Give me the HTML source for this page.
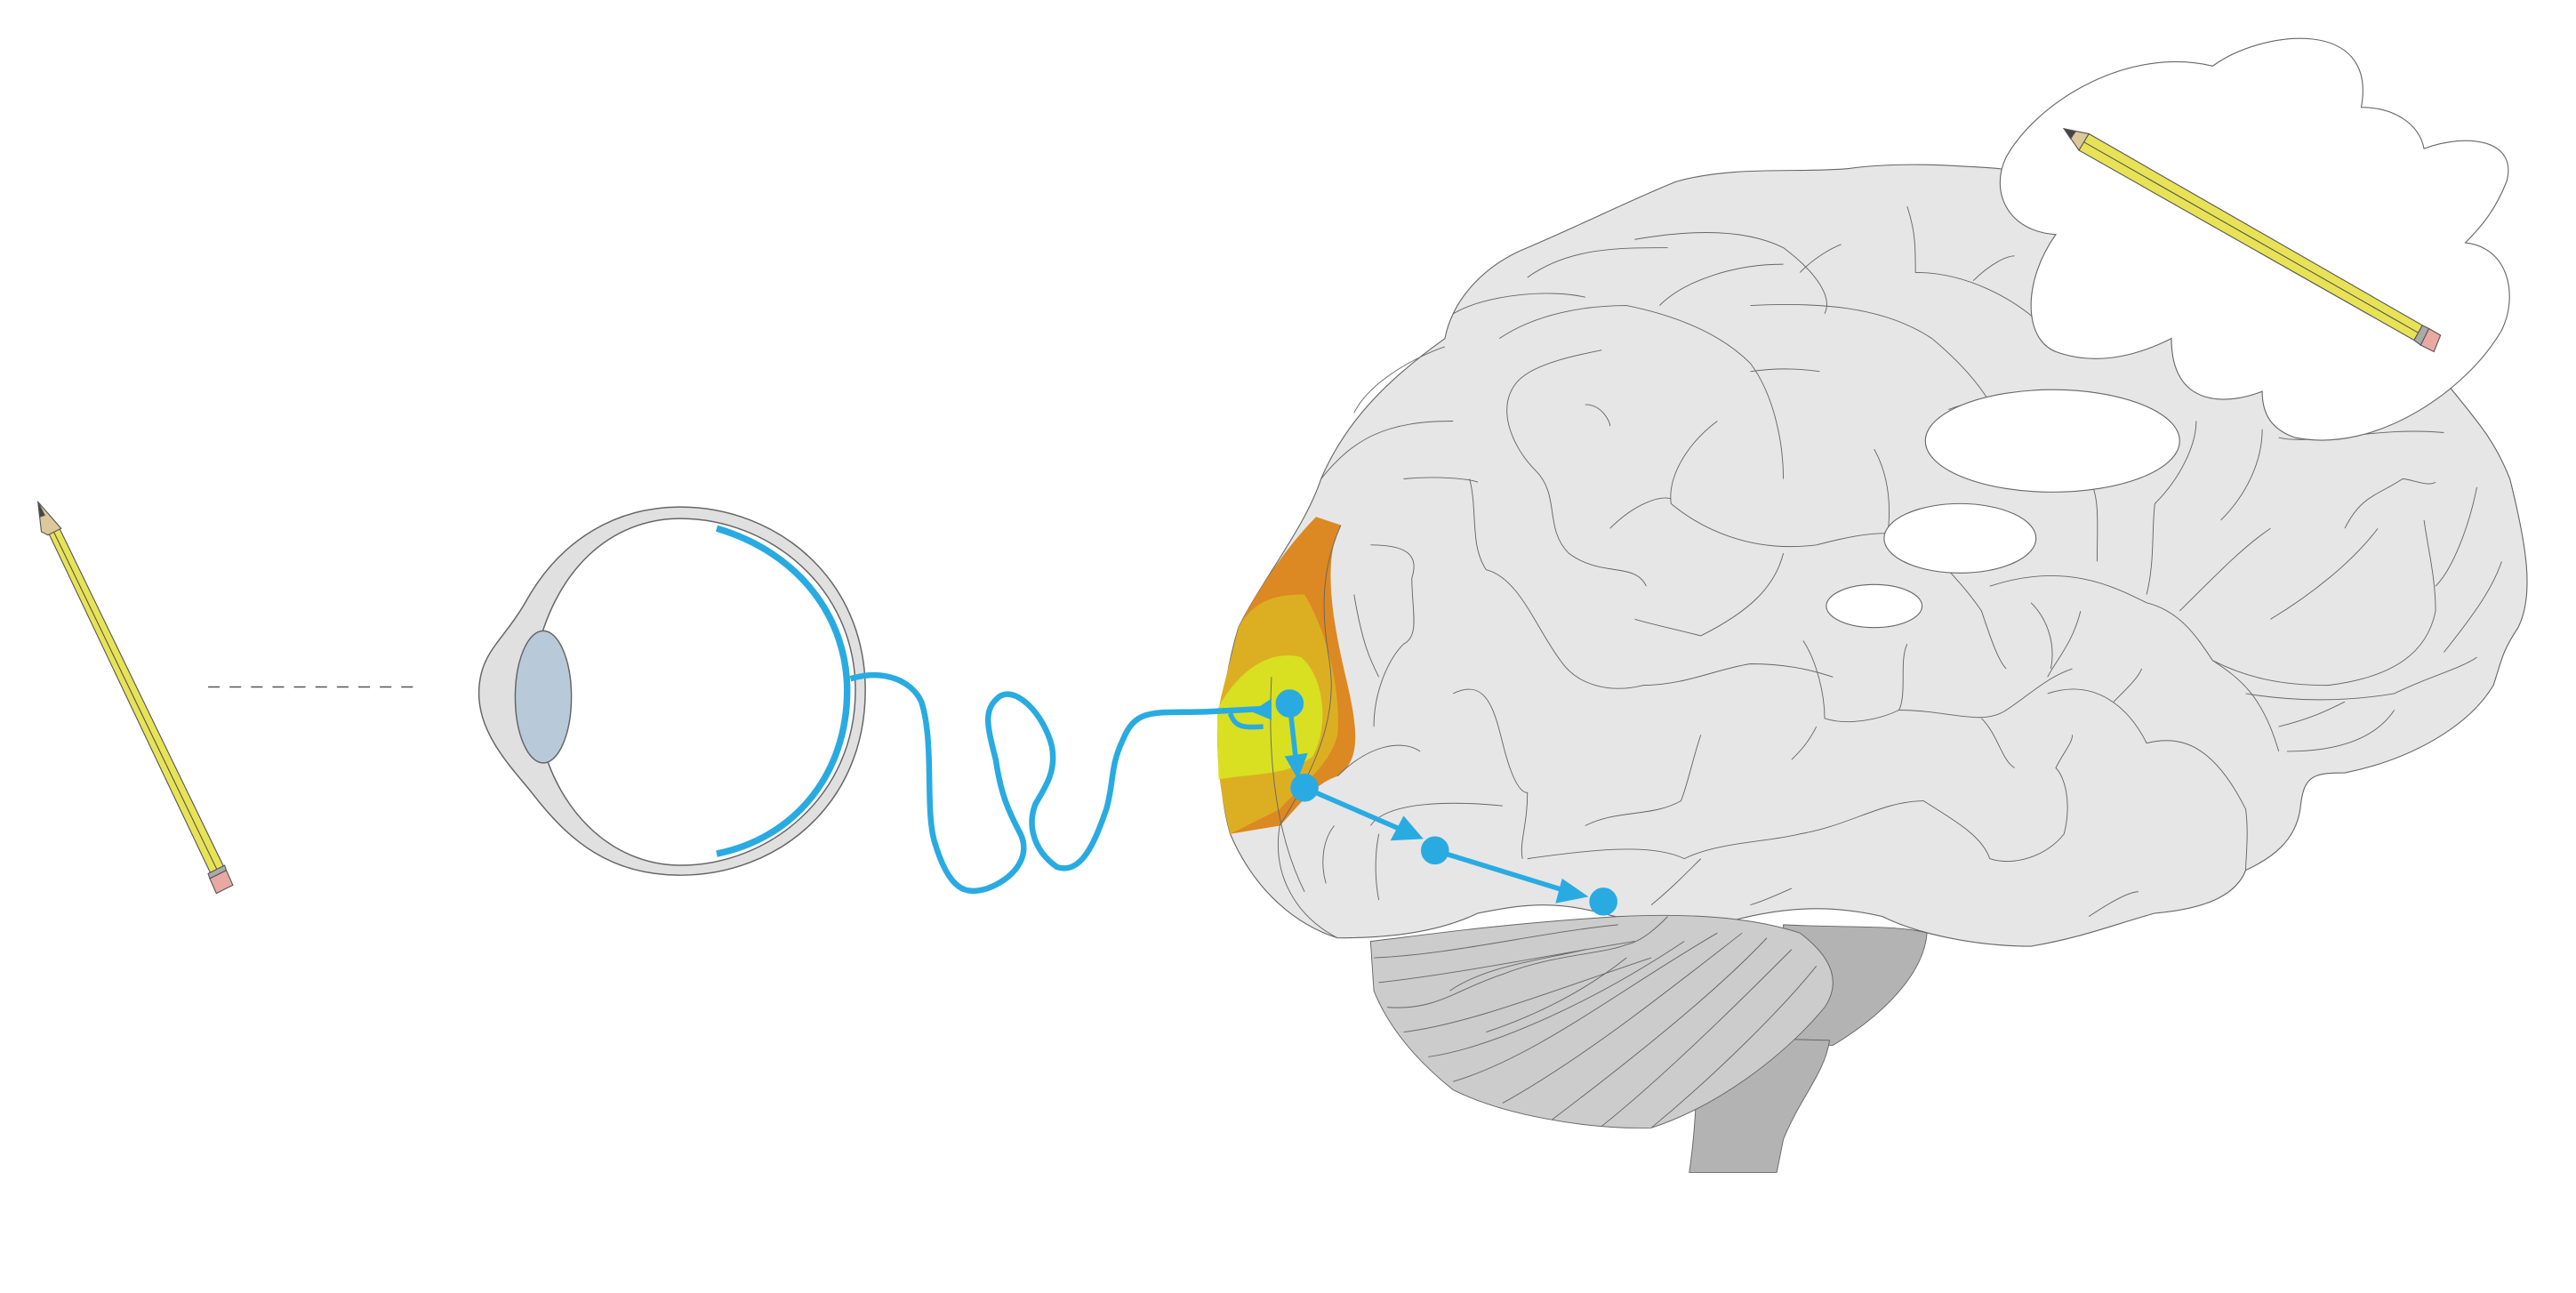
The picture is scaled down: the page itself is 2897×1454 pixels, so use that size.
<!DOCTYPE html>
<html><head><meta charset="utf-8"><style>html,body{margin:0;padding:0;background:#fff}svg{display:block}</style></head>
<body>
<svg width="2897" height="1454" viewBox="0 0 1560 783" xmlns="http://www.w3.org/2000/svg">
<rect width="1560" height="783" fill="#fff"/>
<!-- left pencil -->
<g stroke="#555" stroke-width="0.6">
<polygon points="29,322 36,320 137,528 129,532" fill="#e8e356"/>
<line x1="32" y1="321" x2="133" y2="530"/>
<polygon points="23,304 37,320 29,324 25,322" fill="#dcc89a"/>
<polygon points="23,304 27,312 24,313" fill="#444"/>
<polygon points="127,532 137,527 141,536 131,541" fill="#e8a9a3"/>
<polygon points="126,529 136,524 137,527 127,532" fill="#aaa"/>
</g>
<line x1="126" y1="416" x2="256" y2="416" stroke="#555" stroke-width="0.8" stroke-dasharray="7,6"/>
<!-- eye -->
<path d="M412,307 C470,307 524,350 524,418 C524,488 470,530 412,530 C370,530 345,510 322,480 C310,465 290,445 290,420 C290,395 305,388 318,365 C340,325 375,307 412,307 Z" fill="#e0e0e0" stroke="#666" stroke-width="0.8"/>
<path d="M412,314 C465,314 518,355 518,418 C518,483 465,524 412,524 C370,524 335,490 326,440 L324,400 C335,345 370,314 412,314 Z" fill="#fff" stroke="#666" stroke-width="0.8"/>
<ellipse cx="329" cy="422" rx="17" ry="40" fill="#b8cad9" stroke="#666" stroke-width="0.8"/>
<path d="M434,320 C485,335 513,375 513,418 C513,470 480,508 434,517" fill="none" stroke="#29abe2" stroke-width="4"/>
<!-- brain -->
<path d="M745,505 C735,470 738,420 750,380 C765,350 790,320 800,290 C815,255 840,230 875,205 C880,180 900,160 925,150 C960,135 990,120 1015,110 C1050,100 1090,105 1120,102 C1150,98 1180,100 1210,102 C1260,110 1300,130 1340,150 C1380,170 1420,195 1480,230 C1500,255 1510,265 1520,290 C1530,330 1535,360 1525,380 C1515,395 1515,400 1510,415 C1495,440 1460,460 1420,468 C1400,468 1395,470 1393,490 C1390,510 1375,520 1360,527 C1355,540 1340,550 1305,553 C1280,560 1260,568 1230,573 C1195,573 1160,565 1140,555 C1110,548 1080,548 1040,560 C1010,562 990,558 970,553 C940,545 920,548 895,553 C870,565 840,568 810,568 C785,560 760,540 745,505 Z" fill="#e6e6e6" stroke="#666" stroke-width="0.6"/>
<!-- cerebellum -->
<path d="M1080,560 C1120,562 1150,560 1167,565 C1165,590 1140,615 1110,633 L1080,633 Z" fill="#b3b3b3" stroke="#666" stroke-width="0.5"/>
<path d="M1028,628 L1108,630 C1105,650 1090,665 1080,690 L1076,710 L1023,710 C1026,690 1028,665 1028,628 Z" fill="#b3b3b3" stroke="#666" stroke-width="0.5"/>
<path d="M830,570 C850,568 900,560 980,555 C1020,553 1060,555 1090,565 C1110,580 1115,595 1105,610 C1080,640 1040,670 1000,683 C960,684 910,675 880,660 C855,640 840,620 832,600 Z" fill="#cccccc" stroke="#666" stroke-width="0.5"/>
<g fill="none" stroke="#666" stroke-width="0.5">
<path d="M832,580 C880,578 930,565 980,560"/><path d="M835,595 C880,590 930,580 990,570"/>
<path d="M840,610 C870,612 880,600 910,590 C940,578 970,578 985,572"/>
<path d="M850,625 C890,620 940,600 1000,580"/><path d="M865,640 C900,635 960,610 1020,570"/>
<path d="M880,655 C930,640 980,600 1040,565"/><path d="M910,668 C960,640 1010,600 1055,565"/>
<path d="M940,678 C990,640 1040,600 1070,568"/><path d="M970,682 C1010,650 1060,600 1085,575"/>
<path d="M1000,683 C1040,650 1080,610 1100,585"/><path d="M878,600 C900,585 930,582 960,575"/>
<path d="M900,625 C930,615 960,600 985,580"/><path d="M985,572 C995,570 1005,560 1010,555"/>
</g>
<!-- occipital colour -->
<path d="M750,380 C765,350 785,325 797,313 L812,318 C800,340 808,380 815,410 C822,440 825,460 810,470 C795,475 785,490 775,500 L745,505 C737,475 735,440 740,420 Z" fill="#dc8823"/>
<path d="M750,380 C760,362 775,360 790,360 C805,385 812,420 810,445 C805,465 785,478 775,490 L745,505 C737,475 735,440 740,420 Z" fill="#dcaf23"/>
<path d="M737,430 C750,405 770,393 788,398 C802,410 805,440 795,458 C780,470 760,468 738,472 Z" fill="#d8e021"/>
<!-- sulci -->
<g fill="none" stroke="#666" stroke-width="0.5">
<path d="M812,318 C800,345 800,370 805,400 C810,430 800,460 775,500 C770,530 785,555 810,568"/>
<path d="M770,410 C768,450 770,500 790,540"/>
<path d="M800,290 C820,265 840,255 880,255"/><path d="M820,250 C830,230 860,215 875,210"/>
<path d="M880,190 C900,178 940,175 960,180"/><path d="M925,168 C950,150 980,150 1010,150"/>
<path d="M1005,185 C1020,170 1050,160 1080,160"/><path d="M990,145 C1030,138 1060,140 1080,150 C1100,165 1110,180 1105,190"/>
<path d="M1060,185 C1100,183 1140,185 1170,205 C1200,230 1210,250 1215,265"/>
<path d="M1090,165 C1100,155 1110,150 1115,148"/><path d="M1155,125 C1160,140 1160,150 1160,165 C1190,165 1220,180 1240,200"/>
<path d="M1195,170 C1205,160 1215,155 1220,155"/>
<path d="M908,205 C930,190 960,185 985,185 C1010,190 1040,200 1060,220 C1075,240 1080,270 1080,290"/>
<path d="M970,212 C955,215 930,220 920,230 C905,245 915,270 930,285 C945,300 935,320 950,335 C970,350 990,340 997,355"/>
<path d="M960,245 C970,245 975,255 975,258"/>
<path d="M1060,225 C1080,222 1095,224 1102,225"/>
<path d="M1040,255 C1020,270 1010,290 1012,305 C1030,320 1060,335 1100,330 C1120,325 1140,320 1160,325"/>
<path d="M975,320 C990,305 1005,300 1012,302"/>
<path d="M1080,335 C1075,355 1060,370 1030,385 C1010,380 1000,378 990,375"/>
<path d="M1135,272 C1145,290 1145,310 1143,325"/>
<path d="M1180,248 C1200,240 1215,245 1210,250"/>
<path d="M890,290 C895,310 890,330 900,345 C920,350 930,380 945,400 C955,415 975,420 995,415 C1020,415 1040,405 1060,402 C1080,402 1095,405 1110,410"/>
<path d="M830,330 C850,330 860,335 855,350 C855,370 860,385 850,390 C840,400 832,420 832,440"/>
<path d="M820,360 C825,390 830,400 835,410"/>
<path d="M850,290 C870,288 890,290 895,292"/>
<path d="M880,420 C900,410 905,430 910,450 C915,470 920,480 925,480 C925,500 920,510 922,520"/>
<path d="M810,470 C830,450 850,448 860,455"/>
<path d="M830,500 C840,485 880,485 910,488"/>
<path d="M808,500 C800,510 800,525 803,535"/>
<path d="M835,505 C832,520 833,535 835,545"/>
<path d="M1092,388 C1100,400 1105,420 1105,435 C1120,440 1140,435 1150,430 C1155,420 1150,400 1155,390"/>
<path d="M1100,440 C1095,450 1090,455 1085,460"/>
<path d="M1150,430 C1180,430 1200,440 1215,430 C1230,420 1240,410 1255,405"/>
<path d="M1160,325 C1175,340 1190,355 1200,370 C1205,385 1210,400 1215,405"/>
<path d="M1230,365 C1240,375 1245,390 1242,405"/>
<path d="M1260,370 C1255,390 1245,400 1240,410"/>
<path d="M1200,435 C1210,445 1212,460 1220,465"/>
<path d="M1030,445 C1025,460 1022,475 1018,485 C1000,495 980,490 960,500"/>
<path d="M925,520 C960,515 1000,510 1020,520 C1040,510 1070,510 1090,505 C1120,500 1140,485 1165,485 C1180,495 1200,505 1205,520 C1220,525 1240,518 1250,505 C1255,485 1250,470 1245,465 C1250,455 1255,450 1255,445"/>
<path d="M1000,548 C1010,540 1020,530 1030,520"/><path d="M1060,548 C1070,545 1080,540 1085,538"/>
<path d="M1265,555 C1280,545 1290,540 1295,540"/>
<path d="M1240,420 C1270,410 1290,430 1300,450 C1320,445 1340,450 1360,490 C1362,505 1360,520 1360,527"/>
<path d="M1280,425 C1290,415 1295,410 1297,405"/>
<path d="M1205,355 C1250,340 1280,355 1300,365 C1320,370 1330,385 1340,400 C1355,410 1370,420 1380,455"/>
<path d="M1270,340 C1270,320 1272,300 1265,290"/>
<path d="M1300,360 C1305,340 1303,320 1305,305 C1320,290 1330,270 1330,255"/>
<path d="M1320,370 C1345,345 1360,330 1375,320"/>
<path d="M1345,315 C1360,300 1370,280 1370,260"/>
<path d="M1340,400 C1360,410 1380,415 1410,415 C1450,410 1470,395 1475,370 C1475,350 1470,330 1468,315"/>
<path d="M1375,375 C1400,360 1425,340 1440,320"/>
<path d="M1360,420 C1390,425 1420,425 1450,420 C1470,410 1490,405 1500,398"/>
<path d="M1380,440 C1400,435 1410,430 1420,425"/>
<path d="M1385,455 C1420,455 1440,445 1450,430"/>
<path d="M1475,355 C1485,345 1495,320 1500,295"/>
<path d="M1480,395 C1500,370 1510,355 1515,340"/>
<path d="M1380,265 C1400,270 1440,258 1480,262"/>
<path d="M1420,320 C1430,300 1440,300 1455,290 C1460,290 1470,295 1475,292"/>
</g>
<!-- holes -->
<g fill="#fff" stroke="#666" stroke-width="0.6">
<ellipse cx="1243" cy="267" rx="77" ry="31"/>
<ellipse cx="1187" cy="326" rx="46" ry="21"/>
<ellipse cx="1135" cy="367" rx="29" ry="13"/>
</g>
<!-- cloud -->
<path d="M1245,142 C1215,140 1205,115 1215,95 C1235,60 1290,28 1340,40 C1370,18 1440,10 1430,65 C1450,65 1465,75 1468,90 C1495,80 1525,85 1518,110 C1512,125 1505,135 1493,147 C1520,150 1525,180 1515,200 C1495,235 1440,275 1390,265 C1375,260 1370,250 1370,237 C1350,245 1315,248 1315,205 C1295,215 1270,222 1245,213 C1225,205 1225,170 1245,142 Z" fill="#fff" stroke="#666" stroke-width="0.6"/>
<g stroke="#555" stroke-width="0.6">
<polygon points="1265,81 1467,197 1462,206 1259,91" fill="#e8e356"/>
<line x1="1262" y1="86" x2="1464.5" y2="201.5"/>
<polygon points="1250,78 1265,81 1259,91" fill="#dcc89a"/>
<polygon points="1250,78 1257,79.5 1254,84" fill="#444"/>
<polygon points="1467,197 1471,199 1466,209 1462,206" fill="#aaa"/>
<polygon points="1471,199 1478,203 1474,213 1466,209" fill="#e8a9a3"/>
</g>
<!-- optic nerve -->
<path d="M515,411 C535,405 552,412 558,425 C566,450 560,490 566,510 C575,540 585,542 598,538 C612,533 625,520 618,505 C610,490 606,480 603,460 C598,440 595,430 605,422 C615,415 632,432 637,452 C640,468 632,478 627,487 C622,500 626,515 640,525 C655,530 663,510 670,490 C675,472 672,465 680,448 C688,428 700,432 730,431 L770,429" fill="none" stroke="#29abe2" stroke-width="3.5"/>
<path d="M745,432 C748,440 752,441 765,440" fill="none" stroke="#29abe2" stroke-width="3"/>
<polygon points="770,423 770,436 758,431" fill="#29abe2"/>
<!-- pathway -->
<g fill="#29abe2" stroke="#29abe2">
<circle cx="781" cy="426" r="8"/><circle cx="790" cy="477" r="8"/><circle cx="869" cy="515" r="8"/><circle cx="971" cy="546" r="8"/>
<line x1="781" y1="426" x2="785" y2="462" stroke-width="3"/>
<polygon points="778,458 792,456 786,472" stroke="none"/>
<line x1="790" y1="477" x2="850" y2="503" stroke-width="3"/>
<polygon points="850,494 862,508 842,509" stroke="none"/>
<line x1="869" y1="515" x2="950" y2="540" stroke-width="3"/>
<polygon points="946,532 962,543 942,547" stroke="none"/>
</g>
</svg>
</body></html>
